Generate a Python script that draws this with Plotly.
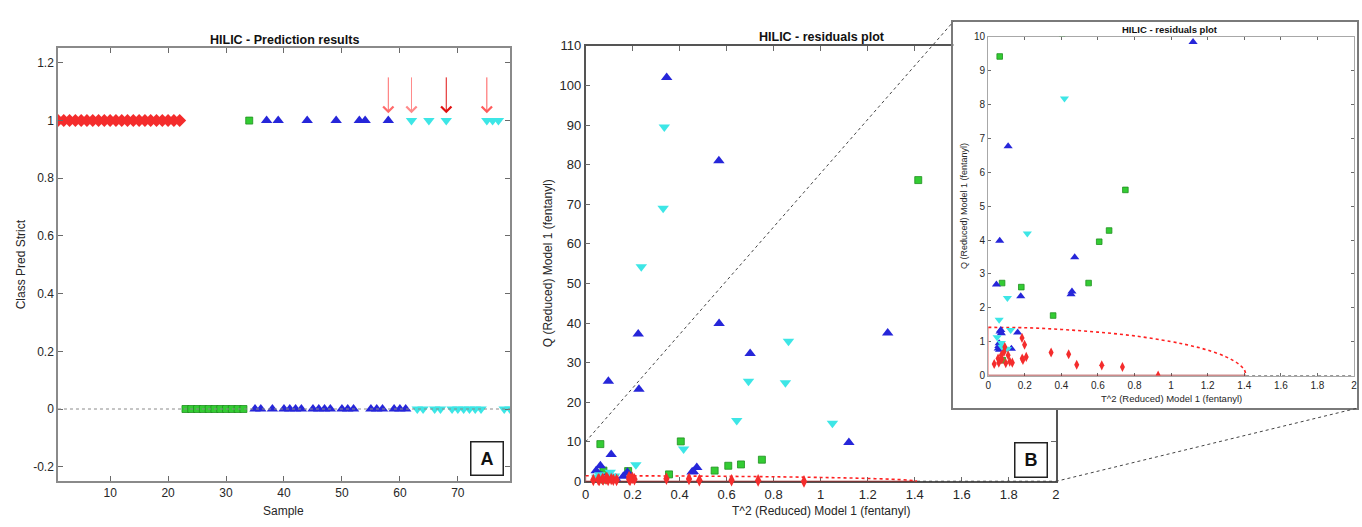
import plotly.graph_objects as go

W, H = 1362, 527

# ---------------- panel A : class prediction per sample ----------------
red_samples = list(range(1, 23))
red_pred = [1] * len(red_samples)
green_samples = list(range(23, 34)) + [34]
green_pred = [0] * 11 + [1]
blue_samples = [35, 36, 37, 38, 39, 40, 41, 42, 43, 44, 45, 46, 47, 48,
                49, 50, 51, 52, 53, 54, 55, 56, 57, 58, 59, 60, 61]
blue_pred = [0, 0, 1, 0, 1, 0, 0, 0, 0, 1, 0, 0, 0, 0,
             1, 0, 0, 0, 1, 1, 0, 0, 0, 1, 0, 0, 0]
cyan_samples = [62, 63, 64, 65, 66, 67, 68, 69, 70, 71, 72, 73, 74, 75, 76, 77, 78, 79]
cyan_pred = [1, 0, 0, 1, 0, 0, 1, 0, 0, 0, 0, 0, 0, 1, 1, 1, 0, 0]
arrow_samples = [58, 62, 68, 75]
arrow_colors = ["#ff6a6a", "#ff8a8a", "#e01010", "#ff5a5a"]
a_yticks = [-0.2, 0, 0.2, 0.4, 0.6, 0.8, 1, 1.2]
a_yticklabels = ["-0.2", "0", "0.2", "0.4", "0.6", "0.8", "1", "1.2"]
a_xticks = [10, 20, 30, 40, 50, 60, 70]

# ---------------- panel B : residuals (T^2 reduced vs Q reduced) -------
red_t2 = [0.033, 0.058, 0.054, 0.072, 0.091, 0.096, 0.109, 0.118, 0.132, 0.185, 0.199,
          0.186, 0.208, 0.19, 0.344, 0.44, 0.484, 0.621, 0.734, 0.929, 0.087, 0.075]
red_q = [0.34, 0.38, 0.50, 0.60, 0.84, 0.36, 0.60, 0.41, 0.38, 1.11, 0.91,
         0.50, 0.55, 0.46, 0.68, 0.63, 0.32, 0.30, 0.25, 0.0, 0.70, 0.48]
green_t2 = [1.415, 0.405, 0.063, 0.75, 0.661, 0.607, 0.549, 0.076, 0.181, 0.355, 0.08]
green_q = [76.1, 10.1, 9.42, 5.48, 4.28, 3.95, 2.73, 2.73, 2.61, 1.77, 0.45]
blue_t2 = [0.345, 0.567, 0.224, 0.097, 0.227, 0.568, 0.70, 1.285, 1.12, 0.109, 0.063,
           0.473, 0.045, 0.458, 0.453, 0.178, 0.069, 0.072, 0.161, 0.058, 0.127,
           0.062, 0.065, 0.06, 0.055]
blue_q = [102.0, 81.0, 37.2, 25.3, 23.3, 39.9, 32.3, 37.5, 9.85, 6.77, 3.98,
          3.49, 2.69, 2.48, 2.40, 2.34, 1.34, 1.25, 1.27, 0.87, 0.79,
          0.76, 1.30, 0.95, 0.80]
cyan_t2 = [0.335, 0.33, 0.237, 0.863, 0.693, 0.85, 0.643, 1.05, 0.417, 0.214, 0.105,
           0.060, 0.123, 0.049, 0.072, 0.091, 0.105, 0.075]
cyan_q = [89.5, 69.0, 54.2, 35.4, 25.3, 24.9, 15.4, 14.7, 8.18, 4.19, 2.29,
          1.65, 1.34, 1.13, 0.96, 0.79, 0.78, 0.85]
limit_t2 = [0, 0.2, 0.4, 0.6, 0.8, 1.0, 1.1, 1.2, 1.3, 1.35, 1.38, 1.40, 1.41]
limit_q = [1.42, 1.41, 1.36, 1.28, 1.17, 1.00, 0.89, 0.75, 0.55, 0.41, 0.29, 0.17, 0]

B_T2_RANGE = [0, 2]
B_Q_RANGE = [0, 110]
INSET_Q_RANGE = [0, 10]

RED, GREEN, BLUE, CYAN = "#f42c2c", "#33cc33", "#2626d9", "#3de6e6"
FONT = "Arial, Liberation Sans, sans-serif"
TXT = "#262626"


def dom(a, b, total):
    return [a / total, b / total]


def ydom(top, bottom):
    return [1 - bottom / H, 1 - top / H]


A_X, A_Y = dom(54.3, 509, W), ydom(42.7, 488)
B_X, B_Y = dom(585, 1058, W), ydom(40, 488.3)
F_X, F_Y = dom(955, 1361, W), ydom(15, 413)
I_X, I_Y = dom(990, 1358, W), ydom(30.7, 379.3)

fig = go.Figure()

# panel A markers
fig.add_trace(go.Scatter(x=red_samples, y=red_pred, mode="markers",
                         marker=dict(symbol="diamond", size=10, color=RED, line=dict(width=0)),
                         xaxis="x", yaxis="y"))
fig.add_trace(go.Scatter(x=green_samples, y=green_pred, mode="markers",
                         marker=dict(symbol="square", size=7, color=GREEN,
                                     line=dict(width=0.8, color="#1f8f1f")),
                         xaxis="x", yaxis="y"))
fig.add_trace(go.Scatter(x=blue_samples, y=blue_pred, mode="markers",
                         marker=dict(symbol="triangle-up", size=10, color=BLUE, line=dict(width=0)),
                         xaxis="x", yaxis="y"))
fig.add_trace(go.Scatter(x=cyan_samples, y=cyan_pred, mode="markers",
                         marker=dict(symbol="triangle-down", size=10, color=CYAN, line=dict(width=0)),
                         xaxis="x", yaxis="y"))


def residual_traces(xa, ya, big):
    s = 1.0 if big else 0.8
    clip = not big
    # confidence limit
    fig.add_trace(go.Scatter(x=[0, 0], y=[0, limit_q[0]], mode="lines",
                             line=dict(color="#f4a0a0", width=1.5), xaxis=xa, yaxis=ya))
    fig.add_trace(go.Scatter(x=[0, limit_t2[-1]], y=[0, 0], mode="lines",
                             line=dict(color="#9a1a1a", width=1.5), xaxis=xa, yaxis=ya))
    fig.add_trace(go.Scatter(x=[limit_t2[-1], B_T2_RANGE[1]], y=[0, 0], mode="lines",
                             line=dict(color="#333333", width=1.2, dash="dot"), xaxis=xa, yaxis=ya))
    fig.add_trace(go.Scatter(x=limit_t2, y=limit_q, mode="lines",
                             line=dict(color="#ff2020", width=1.6, dash="dot", shape="spline"),
                             xaxis=xa, yaxis=ya))
    fig.add_trace(go.Scatter(x=green_t2, y=green_q, mode="markers", cliponaxis=clip,
                             marker=dict(symbol="square", size=7 * s, color=GREEN,
                                         line=dict(width=0.8, color="#1f8f1f")),
                             xaxis=xa, yaxis=ya))
    fig.add_trace(go.Scatter(x=blue_t2, y=blue_q, mode="markers", cliponaxis=clip,
                             marker=dict(symbol="triangle-up", size=10 * s, color=BLUE, line=dict(width=0)),
                             xaxis=xa, yaxis=ya))
    fig.add_trace(go.Scatter(x=cyan_t2, y=cyan_q, mode="markers", cliponaxis=clip,
                             marker=dict(symbol="triangle-down", size=10 * s, color=CYAN, line=dict(width=0)),
                             xaxis=xa, yaxis=ya))
    fig.add_trace(go.Scatter(x=red_t2, y=red_q, mode="markers", cliponaxis=clip,
                             marker=dict(symbol="diamond-tall", size=9 * s, color=RED, line=dict(width=0)),
                             xaxis=xa, yaxis=ya))


residual_traces("x2", "y2", True)
# frame of the inset (empty subplot drawn above panel B)
fig.add_trace(go.Scatter(x=[], y=[], xaxis="x3", yaxis="y3"))
residual_traces("x4", "y4", False)

axis_common = dict(showgrid=False, zeroline=False, showline=True, mirror="allticks",
                   ticks="inside", linecolor="#8a8a8a", linewidth=1.5, tickcolor="#6a6a6a",
                   tickfont=dict(family=FONT, color=TXT))

fig.update_layout(
    xaxis=dict(axis_common, domain=A_X, anchor="y", range=[1, 79], tickvals=a_xticks,
               ticklen=5, tickfont=dict(family=FONT, size=12, color=TXT)),
    yaxis=dict(axis_common, domain=A_Y, anchor="x", range=[-0.25, 1.25], tickvals=a_yticks,
               ticktext=a_yticklabels, ticklen=5, tickfont=dict(family=FONT, size=12, color=TXT)),
    xaxis2=dict(axis_common, domain=B_X, anchor="y2", range=B_T2_RANGE, dtick=0.2,
                ticklen=5, layer="below traces", linecolor="#555555",
                tickfont=dict(family=FONT, size=13, color=TXT)),
    yaxis2=dict(axis_common, domain=B_Y, anchor="x2", range=B_Q_RANGE, dtick=10,
                ticklen=5, layer="below traces", linecolor="#555555",
                tickfont=dict(family=FONT, size=13, color=TXT)),
    xaxis3=dict(domain=F_X, anchor="y3", range=[0, 1], showgrid=False, zeroline=False,
                showticklabels=False, showline=True, mirror=True, linecolor="#7a7a7a", linewidth=2),
    yaxis3=dict(domain=F_Y, anchor="x3", range=[0, 1], showgrid=False, zeroline=False,
                showticklabels=False, showline=True, mirror=True, linecolor="#7a7a7a", linewidth=2),
    xaxis4=dict(axis_common, domain=I_X, anchor="y4", range=B_T2_RANGE, dtick=0.2,
                ticklen=3, layer="below traces", linecolor="#a8a8a8", linewidth=1,
                tickfont=dict(family=FONT, size=10, color=TXT)),
    yaxis4=dict(axis_common, domain=I_Y, anchor="x4", range=INSET_Q_RANGE, dtick=1,
                ticklen=3, layer="below traces", linecolor="#a8a8a8", linewidth=1,
                tickfont=dict(family=FONT, size=10, color=TXT)),
    width=W, height=H, margin=dict(l=0, r=0, t=0, b=0),
    paper_bgcolor="white", plot_bgcolor="white", showlegend=False,
    font=dict(family=FONT, color=TXT),
)


def pp(px, py):
    return px / W, 1 - py / H


def label(text, px, py, size, bold=False, angle=0):
    x, y = pp(px, py)
    fig.add_annotation(x=x, y=y, xref="paper", yref="paper", showarrow=False,
                       text=f"<b>{text}</b>" if bold else text, textangle=angle,
                       font=dict(family=FONT, size=size, color="#111111" if bold else TXT),
                       xanchor="center", yanchor="middle")


label("HILIC - Prediction results", 281.7, 34, 12.5, bold=True)
label("Class Pred Strict", 18, 265, 12, angle=-90)
label("Sample", 281, 519, 12)
label("HILIC - residuals plot", 822.7, 31, 12.5, bold=True)
label("Q (Reduced) Model 1 (fentanyl)", 548, 264, 12, angle=-90)
label("T^2 (Reduced) Model 1 (fentanyl)", 822, 518.5, 12)
label("HILIC - residuals plot", 1173, 23, 9.5, bold=True)
label("Q (Reduced) Model 1 (fentanyl)", 965.5, 205, 9, angle=-90)
label("T^2 (Reduced) Model 1 (fentanyl)", 1174, 402.7, 9.5)

# panel letters
for letter, px, py, w, h in [("A", 485.5, 465, 29, 30), ("B", 1033, 466.7, 29, 31)]:
    x, y = pp(px, py)
    fig.add_annotation(x=x, y=y, xref="paper", yref="paper", showarrow=False,
                       text=f"<b>{letter}</b>", font=dict(family=FONT, size=18, color="#111111"),
                       bordercolor="#222222", borderwidth=1.5, borderpad=1, bgcolor="white",
                       width=w, height=h, xanchor="center", yanchor="middle")

# misclassification arrows
for s, c in zip(arrow_samples, arrow_colors):
    fig.add_annotation(x=s, y=1.025, ax=s, ay=1.155, xref="x", yref="y", axref="x", ayref="y",
                       text="", showarrow=True, arrowhead=4, arrowsize=2, arrowwidth=1,
                       arrowcolor=c)

# zero reference line in panel A
fig.add_shape(type="line", xref="x domain", yref="y", x0=0, x1=1, y0=0, y1=0,
              line=dict(color="#8a8a8a", width=1, dash="dot"))


# zoom connector lines from panel B to the inset frame
def b_paper(t2, q):
    x = B_X[0] + (t2 - B_T2_RANGE[0]) / (B_T2_RANGE[1] - B_T2_RANGE[0]) * (B_X[1] - B_X[0])
    y = B_Y[0] + (q - B_Q_RANGE[0]) / (B_Q_RANGE[1] - B_Q_RANGE[0]) * (B_Y[1] - B_Y[0])
    return x, y


x0, y0 = b_paper(B_T2_RANGE[0], INSET_Q_RANGE[1])
fig.add_shape(type="line", xref="paper", yref="paper", x0=x0, y0=y0, x1=F_X[0], y1=F_Y[1],
              line=dict(color="#444444", width=1, dash="dot"))
x0, y0 = b_paper(B_T2_RANGE[1], INSET_Q_RANGE[0])
fig.add_shape(type="line", xref="paper", yref="paper", x0=x0, y0=y0, x1=F_X[1], y1=F_Y[0],
              line=dict(color="#444444", width=1, dash="dot"))

# pin the figure to the page corner (no default body margin)
pin = ("document.body.style.margin='0';"
       "document.documentElement.style.overflow='hidden';"
       "var g=document.querySelector('.plotly-graph-div');"
       "g.style.position='fixed';g.style.left='0px';g.style.top='0px';")

fig.write_html("out.html", post_script=pin, config={"displayModeBar": False})
